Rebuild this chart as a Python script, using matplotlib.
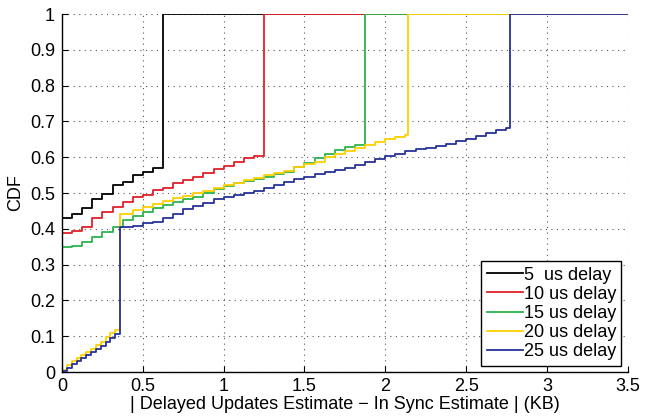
import numpy as np
import matplotlib
matplotlib.use("Agg")
import matplotlib.pyplot as plt

# step width of the quantised estimate error (KB)
BIN = 0.0625

labels = ["5  us delay", "10 us delay", "15 us delay", "20 us delay", "25 us delay"]
colors = ["#000000", "#e0202a", "#2bb34b", "#ffd000", "#26329a"]

# CDF values
cdf_5 = [0.430, 0.440, 0.457, 0.482, 0.496, 0.522, 0.530, 0.550, 0.559, 0.569]
cdf_10 = [0.387, 0.395, 0.406, 0.429, 0.448, 0.462, 0.476, 0.490, 0.494, 0.508,
          0.515, 0.527, 0.535, 0.546, 0.556, 0.566, 0.575, 0.587, 0.597, 0.604]
cdf_15 = [0.350, 0.352, 0.362, 0.378, 0.392, 0.405, 0.426, 0.437, 0.448, 0.458,
          0.466, 0.474, 0.482, 0.490, 0.499, 0.510, 0.520, 0.527, 0.534, 0.540,
          0.546, 0.552, 0.560, 0.572, 0.585, 0.597, 0.609, 0.620, 0.629, 0.634]

# 20 and 25 us: fine steps below 0.36 KB, then a jump, then coarse steps
low_x = [0.00, 0.03, 0.06, 0.09, 0.12, 0.15, 0.18, 0.21, 0.24, 0.27, 0.30, 0.33]
low_20 = [0.005, 0.020, 0.030, 0.040, 0.048, 0.056, 0.064, 0.075, 0.085, 0.097, 0.108, 0.117]
low_25 = [0.003, 0.012, 0.022, 0.030, 0.038, 0.047, 0.056, 0.065, 0.074, 0.085, 0.095, 0.105]
knee = 0.36
knee_20 = 0.440
knee_25 = 0.405
cdf_20 = [0.440, 0.452, 0.462, 0.470, 0.478, 0.485, 0.492, 0.499, 0.507, 0.515,
          0.522, 0.528, 0.535, 0.543, 0.550, 0.556, 0.562, 0.572, 0.580, 0.588,
          0.600, 0.610, 0.618, 0.625, 0.634, 0.643, 0.652, 0.657, 0.662]
cdf_25 = [0.405, 0.408, 0.415, 0.420, 0.430, 0.440, 0.455, 0.465, 0.473, 0.482,
          0.490, 0.494, 0.500, 0.506, 0.514, 0.522, 0.530, 0.538, 0.546, 0.552,
          0.558, 0.564, 0.571, 0.578, 0.586, 0.594, 0.602, 0.610, 0.616, 0.622,
          0.627, 0.632, 0.638, 0.645, 0.652, 0.660, 0.668, 0.675, 0.681]

# where each curve jumps to 1
jumps = [0.625, 1.25, 1.875, 2.14, 2.77]
XMAX = 3.5


def build(xs, ys, jump):
    x = [0.0] + list(xs) + [jump, XMAX]
    y = [0.0] + list(ys) + [1.0, 1.0]
    return x, y


series = []
for vals, j in zip([cdf_5, cdf_10, cdf_15], jumps[:3]):
    series.append(build(np.arange(len(vals)) * BIN, vals, j))
for low, k, vals, j in [(low_20, knee_20, cdf_20, jumps[3]), (low_25, knee_25, cdf_25, jumps[4])]:
    xs = low_x + [knee] + list(0.375 + np.arange(len(vals)) * BIN)
    ys = low + [k] + vals
    series.append(build(xs, ys, j))

plt.rcParams["font.family"] = ["Liberation Sans", "DejaVu Sans"]
fig = plt.figure(figsize=(6.54, 4.18), dpi=100)
ax = fig.add_axes([0.0948, 0.110, 0.865, 0.8565])

for (x, y), c, lab in zip(series, colors, labels):
    ax.step(x, y, where="post", color=c, lw=1.3, label=lab)

ax.set_xlim(0, XMAX)
ax.set_ylim(0, 1)
ax.set_xticks(np.arange(0, 3.51, 0.5))
ax.set_xticklabels(["0", "0.5", "1", "1.5", "2", "2.5", "3", "3.5"])
ax.set_yticks(np.arange(0, 1.01, 0.1))
ax.set_yticklabels(["0"] + [f"{v:.1f}" for v in np.arange(0.1, 0.95, 0.1)] + ["1"])
ax.tick_params(direction="in", length=4, labelsize=13)
ax.tick_params(axis="x", pad=4)
ax.tick_params(axis="y", pad=5)
ax.grid(True, linestyle=(0, (1, 4)), color="#555555", lw=0.8)
ax.spines["top"].set_visible(False)
ax.spines["right"].set_visible(False)
ax.spines["left"].set_linewidth(1.0)
ax.spines["bottom"].set_linewidth(1.0)

ax.set_xlabel("| Delayed Updates Estimate \u2212 In Sync Estimate | (KB)", fontsize=13, labelpad=1)
ax.set_ylabel("CDF", fontsize=13, labelpad=4)

leg = ax.legend(loc="lower right", fontsize=13, handlelength=2.0, handletextpad=0.05,
                borderpad=0.3, labelspacing=0.12, borderaxespad=0.35, fancybox=False)
leg.get_frame().set_edgecolor("black")
leg.get_frame().set_linewidth(1.0)
leg.get_frame().set_alpha(1.0)

fig.savefig("out.png", dpi=100)
